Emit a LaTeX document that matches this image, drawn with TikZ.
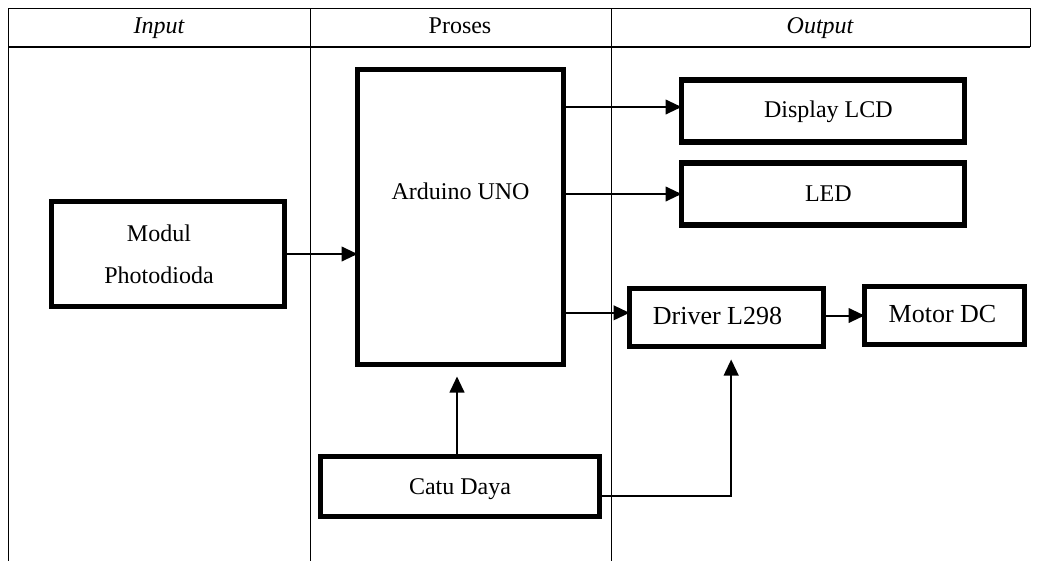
\documentclass[tikz,border=0pt]{standalone}
\usepackage{fontspec}
\setmainfont{Liberation Serif}
\usetikzlibrary{arrows.meta}
\begin{document}
\begin{tikzpicture}[x=0.75pt,y=-0.75pt,
  tbl/.style={line width=0.75pt},
  blk/.style={draw, line width=3.8pt, inner sep=0pt, outer sep=0pt},
  txt/.style={font=\fontsize{18}{21}\selectfont},
  txtb/.style={font=\fontsize{19.5}{23}\selectfont},
  arr/.style={line width=1.5pt, -{Triangle[length=12pt,width=11pt]}},
  lin/.style={line width=1.5pt}
]
\useasboundingbox (0,0) rectangle (1039,561);
% table
\draw[tbl] (8,8) -- (1030,8);
\draw[line width=1.1pt] (8,47) -- (1030,47);
\draw[tbl] (8,8) -- (8,561);
\draw[tbl] (310,8) -- (310,561);
\draw[tbl] (611,8) -- (611,561);
\draw[tbl] (1030,8) -- (1030,47);
\node[txt, anchor=base] (hin) at (159,33) {\itshape Input};
\node[txt, anchor=base] (hpr) at (460,33) {Proses};
\node[txt, anchor=base] (hout) at (820,33) {\itshape Output};
% blocks
\node[blk, minimum width=174.75pt, minimum height=78.75pt,
  label={[font=\fontsize{18}{31.5}\selectfont, align=center, xshift=-6.75pt]center:Modul\\Photodioda}] (mod) at (168,254) {};
\node[blk, minimum width=154.5pt, minimum height=221.25pt,
  label={[txt, yshift=19pt]center:Arduino UNO}] (ard) at (460.5,217) {};
\node[blk, minimum width=212.25pt, minimum height=46.5pt,
  label={[txt, xshift=4pt, yshift=-0.5pt]center:Display LCD}] (lcd) at (823,111) {};
\node[blk, minimum width=212.25pt, minimum height=46.5pt,
  label={[txt, xshift=4pt]center:LED}] (led) at (823,194) {};
\node[blk, minimum width=145.5pt, minimum height=43.5pt,
  label={[txtb, xshift=-6.75pt, yshift=1.5pt]center:Driver L298}] (drv) at (726.5,317.5) {};
\node[blk, minimum width=120pt, minimum height=43.5pt,
  label={[txtb, xshift=-1.5pt, yshift=1pt]center:Motor DC}] (mot) at (944.5,315.5) {};
\node[blk, minimum width=209.25pt, minimum height=45pt,
  label={[txt, yshift=-2pt]center:Catu Daya}] (cat) at (460,486.5) {};
% connectors
\draw[arr] (mod.east) -- (ard.west |- mod.east);
\draw[arr] ([yshift=3pt]ard.east |- lcd.west) -- ([yshift=3pt]lcd.west);
\draw[arr] (ard.east |- led.west) -- (led.west);
\draw[arr] ([yshift=3.5pt]ard.east |- drv.west) -- ([yshift=3.5pt]drv.west);
\draw[arr] (drv.east |- mot.west) -- (mot.west);
\draw[arr, shorten >=9pt] ([xshift=-2.25pt]cat.north) -- ([xshift=-2.25pt]cat.north |- ard.south);
\draw[arr, shorten >=9.75pt] ([yshift=-7pt]cat.east) -| ([xshift=3.5pt]drv.south);
\end{tikzpicture}
\end{document}
